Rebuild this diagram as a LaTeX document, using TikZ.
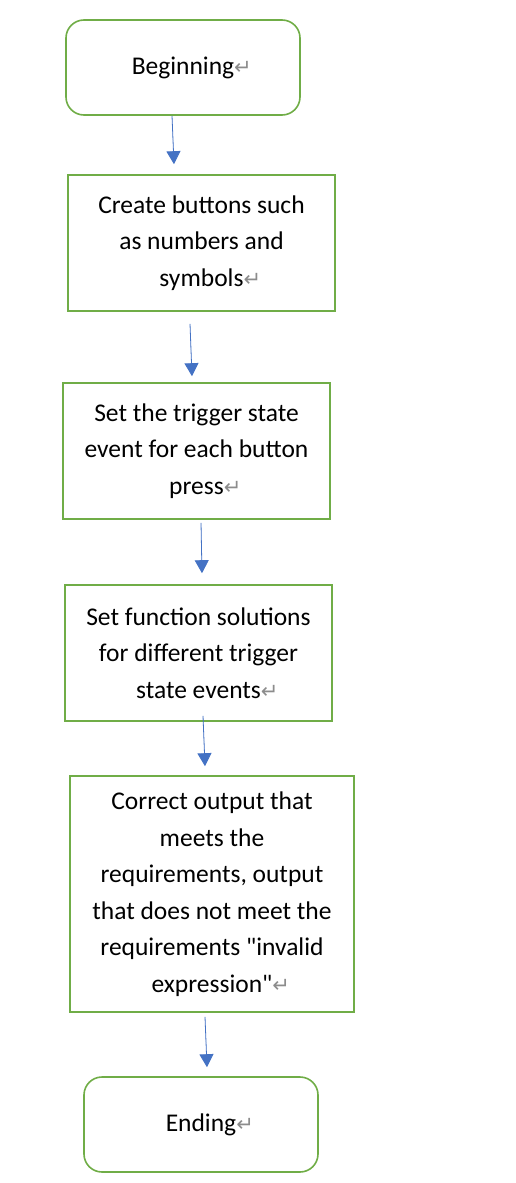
\documentclass[tikz,border=0pt]{standalone}
\usepackage{fontspec}
\setmainfont{Carlito}
\newfontfamily\markfont{DejaVu Sans}
\usetikzlibrary{arrows.meta}
\definecolor{flowgreen}{HTML}{70AD47}
\definecolor{flowblue}{HTML}{4472C4}
\definecolor{markgray}{HTML}{8C8C8C}
\newcommand{\parmark}{\rlap{\textcolor{markgray}{\markfont\fontsize{21}{21}\selectfont ↵}}}

\begin{document}
\begin{tikzpicture}[x=1pt, y=-1pt,
    every node/.style={font=\fontsize{25.5}{36.5}\selectfont, align=center},
    terminal/.style={rectangle, draw=flowgreen, line width=1.6pt, rounded corners=18pt, minimum width=234pt, minimum height=95pt},
    stepbox/.style={rectangle, draw=flowgreen, line width=1.6pt, minimum width=267pt, minimum height=136pt},
    flow/.style={-{Triangle[length=13pt, width=14pt]}, draw=flowblue, fill=flowblue, line width=0.8pt}]
    \useasboundingbox (0,0) rectangle (516,1183);

    % Start
    \node[terminal] (begin) at (183,67.5) {Beginning\parmark};

    % Steps
    \node[stepbox] (buttons) at (201.5,243)
        {Create buttons such\\as numbers and\\symbols\parmark};
    \node[stepbox] (trigger) at (196.5,451)
        {Set the trigger state\\event for each button\\press\parmark};
    \node[stepbox] (solution) at (198.5,653)
        {Set function solutions\\for different trigger\\state events\parmark};
    \node[stepbox, minimum width=284pt, minimum height=236pt] (output) at (212,894)
        {Correct output that\\meets the\\requirements, output\\that does not meet the\\requirements \textquotedbl invalid\\expression\textquotedbl\parmark};

    % End
    \node[terminal] (ending) at (201,1124.5) {Ending\parmark};

    \draw[flow] ([xshift=-11pt]begin.south) -- ([xshift=-27.5pt, yshift=10pt]buttons.north);
    \draw[flow] ([xshift=-11.5pt, yshift=-12pt]buttons.south) -- ([xshift=-4.5pt, yshift=6pt]trigger.north);
    \draw[flow] ([xshift=4.5pt, yshift=-3pt]trigger.south) -- ([xshift=3.5pt, yshift=11pt]solution.north);
    \draw[flow] ([xshift=4.5pt, yshift=6pt]solution.south) -- ([xshift=-7pt, yshift=9pt]output.north);
    \draw[flow] ([xshift=-7pt, yshift=-4pt]output.south) -- ([xshift=6pt, yshift=9pt]ending.north);
\end{tikzpicture}
\end{document}
